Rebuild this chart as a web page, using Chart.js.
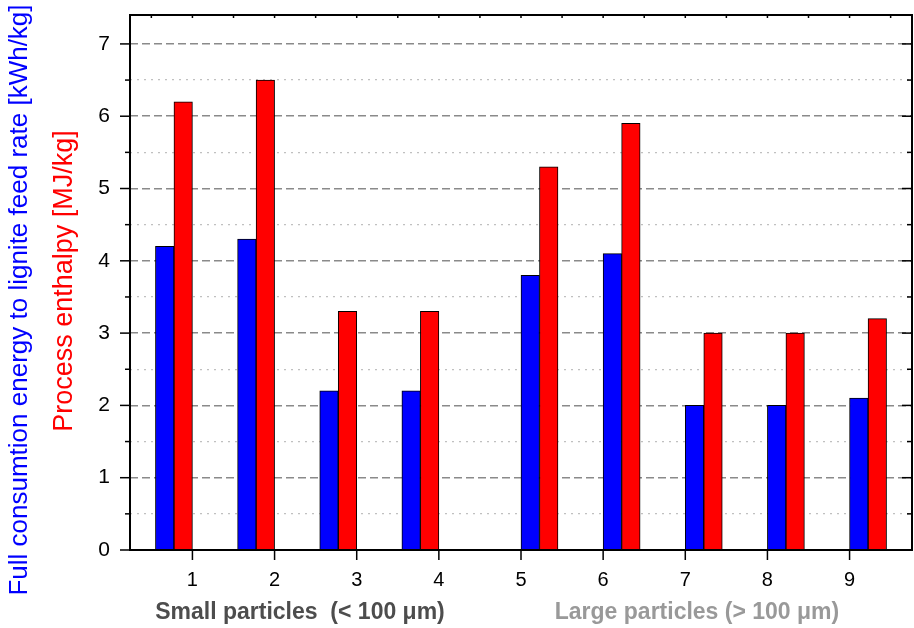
<!DOCTYPE html>
<html>
<head>
<meta charset="utf-8">
<script src="https://cdn.jsdelivr.net/npm/chart.js@4.4.0/dist/chart.umd.min.js"></script>
<style>
  html, body { margin: 0; padding: 0; background: #fff; }
  #wrap { width: 914px; height: 628px; }
</style>
</head>
<body>
<div id="wrap"><canvas id="energyChart" width="914" height="628"></canvas></div>
<script>
// runs and measured values
const runs = [1, 2, 3, 4, 5, 6, 7, 8, 9];
const particleSize = ["small", "small", "small", "small", "large", "large", "large", "large", "large"];
const fullConsumption = [4.2, 4.3, 2.2, 2.2, 3.8, 4.1, 2.0, 2.0, 2.1]; // kWh/kg
const processEnthalpy = [6.2, 6.5, 3.3, 3.3, 5.3, 5.9, 3.0, 3.0, 3.2]; // MJ/kg
const yTickValues = [0, 1, 2, 3, 4, 5, 6, 7];
const yTitleBlue = "Full consumtion energy to lignite feed rate [kWh/kg]";
const yTitleRed = "Process enthalpy [MJ/kg]";
const groupTitles = ["Small particles  (< 100 \u03bcm)", "Large particles (> 100 \u03bcm)"];

const FONT = '"Liberation Sans", Arial, sans-serif';
const PAIR_SHIFT = 0.225; // bar pair sits left of the run for small, right for large

// major + half-step gridline values
const yGrid = yTickValues.flatMap(v => v < 7 ? [v, v + 0.5] : [v]);
const pairX = runs.map((r, i) => r + (particleSize[i] === "small" ? -PAIR_SHIFT : PAIR_SHIFT));

function toPoints(values) {
    return values.map((v, i) => ({ x: pairX[i], y: v }));
}

function line(ctx, x1, y1, x2, y2) {
    ctx.beginPath();
    ctx.moveTo(x1, y1);
    ctx.lineTo(x2, y2);
    ctx.stroke();
}

function noPadding(s) {
    s.paddingTop = 0;
    s.paddingBottom = 0;
    s.paddingLeft = 0;
    s.paddingRight = 0;
}

const framePlugin = {
    id: "frame",
    afterDatasetsDraw(chart) {
        const { ctx, chartArea: a, scales: { x, y } } = chart;
        ctx.save();
        ctx.strokeStyle = "#000";
        ctx.lineWidth = 1.5;
        yGrid.forEach(v => {
            const py = y.getPixelForValue(v);
            const len = Number.isInteger(v) ? 10 : 5;
            line(ctx, a.left - len, py, a.left, py);
            line(ctx, a.right - len, py, a.right, py);
        });
        runs.forEach(v => {
            const px = x.getPixelForValue(v);
            line(ctx, px, a.bottom, px, a.bottom + 10);
        });
        runs.flatMap(r => [r - 0.5, r]).concat([runs[runs.length - 1] + 0.5]).forEach(v => {
            const px = x.getPixelForValue(v);
            line(ctx, px, a.top, px, a.top + 3);
        });
        ctx.lineWidth = 2;
        ctx.strokeRect(a.left, a.top, a.right - a.left, a.bottom - a.top);
        ctx.restore();
    },
    afterDraw(chart) {
        const { ctx } = chart;
        ctx.save();
        ctx.textAlign = "center";
        ctx.textBaseline = "middle";

        ctx.save();
        ctx.font = "26px " + FONT;
        ctx.translate(20, 300);
        ctx.rotate(-Math.PI / 2);
        ctx.fillStyle = "#0000ff";
        ctx.fillText(yTitleBlue, 0, 0);
        ctx.restore();

        ctx.save();
        ctx.font = "27px " + FONT;
        ctx.translate(65, 281);
        ctx.rotate(-Math.PI / 2);
        ctx.fillStyle = "#ff0000";
        ctx.fillText(yTitleRed, 0, 0);
        ctx.restore();

        ctx.font = "bold 23px " + FONT;
        ctx.fillStyle = "#4d4d4d";
        ctx.fillText(groupTitles[0], 300, 613);
        ctx.fillStyle = "#999999";
        ctx.fillText(groupTitles[1], 697, 613);
        ctx.restore();
    }
};

new Chart(document.getElementById("energyChart"), {
    type: "bar",
    data: {
        datasets: [
            {
                label: "Full consumption energy",
                data: toPoints(fullConsumption),
                backgroundColor: "#0000ff",
                borderColor: "#000",
                borderWidth: 1,
                barThickness: 18.5
            },
            {
                label: "Process enthalpy",
                data: toPoints(processEnthalpy),
                backgroundColor: "#ff0000",
                borderColor: "#000",
                borderWidth: 1,
                barThickness: 18.5
            }
        ]
    },
    options: {
        responsive: false,
        animation: false,
        layout: { padding: { top: 15, right: 2, left: 0, bottom: 0 } },
        plugins: {
            legend: { display: false },
            tooltip: { enabled: false }
        },
        scales: {
            x: {
                type: "linear",
                offset: false,
                min: 0.24,
                max: 9.76,
                afterBuildTicks: s => { s.ticks = runs.map(v => ({ value: v })); },
                afterFit: s => { s.height = 78; noPadding(s); },
                grid: { display: false, drawTicks: false },
                border: { display: false },
                ticks: {
                    autoSkip: false,
                    maxRotation: 0,
                    padding: 18,
                    color: "#000",
                    font: { family: FONT, size: 20 },
                    callback: v => String(v)
                }
            },
            y: {
                min: 0,
                max: 7.4,
                afterBuildTicks: s => { s.ticks = yGrid.map(v => ({ value: v })); },
                afterFit: s => { s.width = 130; noPadding(s); },
                grid: {
                    drawTicks: false,
                    lineWidth: ctx => (ctx.tick && Number.isInteger(ctx.tick.value)) ? 1.5 : 1.2,
                    color: ctx => (ctx.tick && Number.isInteger(ctx.tick.value)) ? "#8a8a8a" : "#c0c0c0"
                },
                border: {
                    display: false,
                    dash: ctx => (ctx.tick && Number.isInteger(ctx.tick.value)) ? [8, 4] : [2, 5]
                },
                ticks: {
                    autoSkip: false,
                    padding: 20,
                    color: "#000",
                    font: { family: FONT, size: 21 },
                    callback: v => Number.isInteger(v) ? String(v) : ""
                }
            }
        }
    },
    plugins: [framePlugin]
});
</script>
</body>
</html>
